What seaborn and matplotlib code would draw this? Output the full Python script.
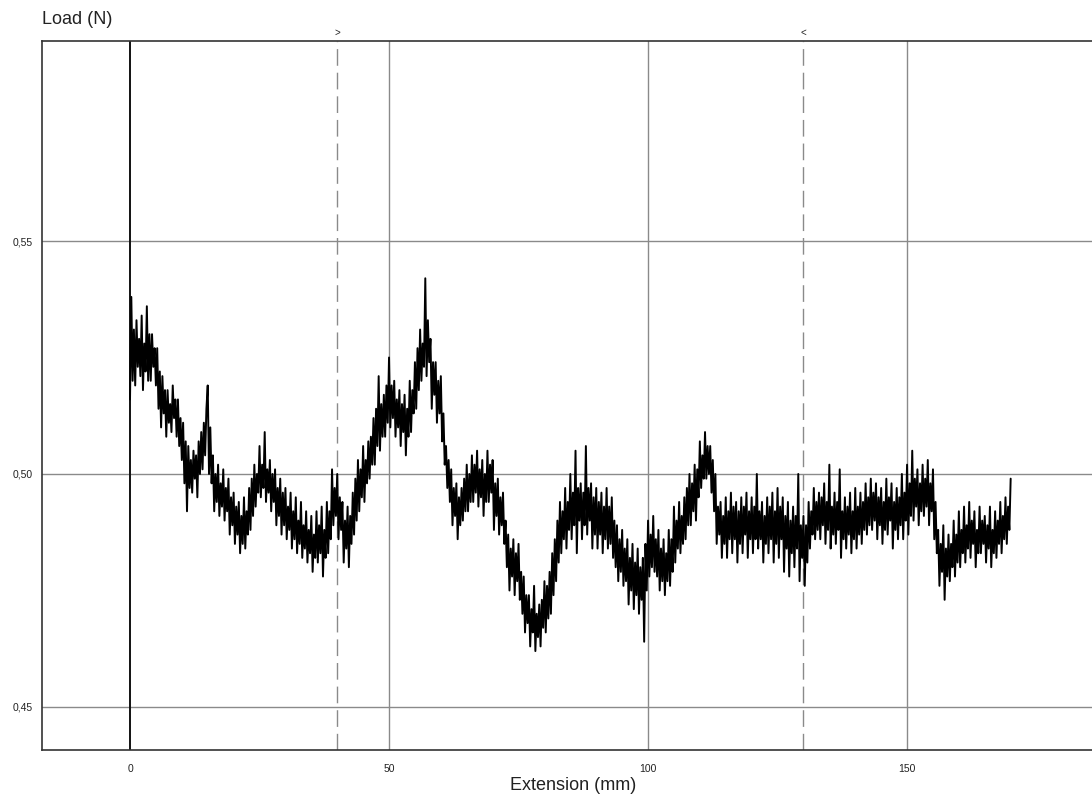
import numpy as np
import pandas as pd
import matplotlib
matplotlib.use("Agg")
import matplotlib.pyplot as plt
import seaborn as sns

# ---- data, one sample every 0.25 mm ----
step_mm = 0.25
load_0_50 = [
    .516, .538, .520, .531, .519, .533, .523, .529, .521, .534, .518, .528, .522, .536, .520, .530, .520, .530, .523, .527,
    .519, .527, .514, .522, .510, .521, .513, .518, .508, .518, .511, .515, .509, .519, .512, .516, .508, .516, .506, .512,
    .503, .511, .498, .507, .492, .506, .497, .503, .496, .505, .499, .504, .495, .507, .500, .509, .501, .511, .504, .514,
    .519, .500, .510, .498, .504, .492, .500, .494, .502, .491, .498, .493, .501, .490, .497, .492, .499, .487, .495, .489,
    .496, .485, .493, .487, .494, .483, .491, .485, .495, .484, .492, .487, .497, .488, .499, .491, .502, .493, .500, .496,
    .506, .495, .502, .497, .509, .494, .501, .496, .503, .492, .500, .494, .501, .489, .497, .491, .499, .487, .496, .489,
    .497, .486, .493, .488, .496, .484, .492, .486, .495, .483, .490, .485, .494, .482, .489, .484, .492, .481, .488, .483,
    .491, .479, .487, .482, .492, .481, .489, .483, .493, .478, .488, .482, .494, .483, .492, .486, .501, .489, .497, .491,
    .500, .486, .495, .488, .494, .481, .490, .484, .493, .480, .491, .485, .496, .487, .499, .490, .503, .492, .501, .495,
    .506, .494, .503, .498, .507, .499, .508, .502, .512, .502, .514, .506, .521, .505, .515, .508, .517, .508, .519, .511,
]
load_50_100 = [
    .525, .510, .519, .512, .520, .508, .516, .510, .518, .506, .515, .509, .517, .504, .514, .508, .520, .509, .518, .513,
    .524, .514, .527, .518, .531, .520, .528, .523, .542, .521, .533, .524, .529, .514, .524, .517, .524, .511, .520, .513,
    .521, .507, .513, .502, .506, .497, .503, .494, .501, .489, .497, .491, .498, .486, .495, .489, .497, .490, .499, .492,
    .502, .492, .500, .494, .504, .494, .502, .496, .505, .493, .501, .495, .503, .491, .500, .494, .505, .494, .502, .496,
    .503, .488, .498, .491, .499, .487, .495, .489, .496, .485, .490, .480, .487, .475, .484, .478, .486, .474, .483, .477,
    .485, .473, .479, .470, .478, .466, .474, .468, .474, .463, .471, .466, .476, .462, .470, .465, .472, .463, .473, .467,
    .477, .466, .476, .469, .479, .470, .483, .474, .486, .477, .490, .481, .494, .483, .492, .486, .497, .484, .494, .488,
    .500, .486, .496, .489, .505, .483, .497, .490, .498, .486, .496, .489, .506, .487, .497, .490, .498, .484, .495, .487,
    .497, .484, .494, .487, .496, .483, .493, .486, .497, .484, .493, .485, .495, .482, .490, .480, .489, .477, .486, .479,
    .488, .476, .484, .477, .486, .472, .482, .475, .485, .471, .481, .474, .484, .470, .480, .473, .482, .464, .485, .475,
]
load_100_150 = [
    .490, .478, .487, .480, .491, .479, .486, .478, .488, .475, .484, .477, .486, .474, .483, .477, .488, .476, .486, .479,
    .493, .481, .490, .484, .494, .483, .491, .485, .495, .486, .497, .489, .500, .489, .498, .492, .502, .490, .501, .495,
    .507, .497, .504, .499, .509, .499, .506, .500, .506, .496, .503, .492, .500, .485, .493, .487, .494, .482, .491, .485,
    .495, .482, .492, .486, .496, .483, .493, .486, .494, .481, .492, .485, .495, .483, .493, .487, .496, .482, .492, .486,
    .495, .483, .493, .486, .500, .484, .492, .486, .494, .481, .491, .485, .495, .483, .493, .486, .496, .481, .492, .485,
    .497, .482, .493, .486, .495, .479, .491, .484, .494, .478, .490, .483, .493, .480, .491, .484, .500, .477, .489, .482,
    .491, .476, .489, .481, .494, .484, .492, .487, .497, .486, .494, .488, .496, .486, .495, .489, .498, .485, .494, .488,
    .502, .484, .493, .487, .496, .485, .494, .488, .501, .482, .492, .486, .495, .484, .493, .487, .496, .483, .492, .486,
    .497, .484, .493, .487, .496, .485, .494, .488, .498, .487, .495, .489, .499, .488, .496, .490, .498, .486, .495, .489,
    .497, .485, .494, .488, .499, .487, .495, .490, .498, .484, .494, .488, .497, .486, .495, .489, .500, .486, .496, .490,
]
load_150_170 = [
    .502, .487, .498, .491, .505, .490, .499, .493, .501, .489, .498, .492, .502, .491, .499, .493, .503, .489, .498, .492,
    .501, .486, .494, .483, .488, .476, .485, .479, .489, .473, .484, .478, .487, .477, .485, .480, .490, .478, .487, .481,
    .492, .480, .488, .483, .493, .481, .489, .484, .494, .482, .490, .485, .492, .480, .488, .483, .493, .483, .490, .485,
    .491, .481, .489, .484, .493, .480, .488, .483, .492, .482, .490, .485, .494, .483, .491, .486, .495, .485, .493, .488,
    .499,
]

x_ticks = [0, 50, 100, 150]
x_tick_labels = ["0", "50", "100", "150"]
y_ticks = [0.45, 0.50, 0.55]
y_tick_labels = ["0,45", "0,50", "0,55"]
marker_positions = [40, 130]
marker_labels = [">", "<"]
x_label = "Extension (mm)"
y_label = "Load (N)"

load = load_0_50 + load_50_100 + load_100_150 + load_150_170
extension = np.arange(len(load)) * step_mm
df = pd.DataFrame({"Extension (mm)": extension, "Load (N)": load})

# ---- figure ----
sns.set_style("white")
plt.rcParams["font.family"] = ["Liberation Sans", "DejaVu Sans"]

W, H = 1092, 798
fig = plt.figure(figsize=(W / 100, H / 100), dpi=100)
ax_left, ax_right, ax_top, ax_bottom = 42, 1092, 41, 750
ax = fig.add_axes([ax_left / W, 1 - ax_bottom / H,
                   (ax_right - ax_left) / W, (ax_bottom - ax_top) / H])

ax.set_xlim(-16.99, 185.7)
ax.set_ylim(0.44077, 0.59292)

grid_col = "#8a8a8a"
for yv in y_ticks:
    ax.axhline(yv, color=grid_col, lw=1.0, zorder=1)
for xv in x_ticks[1:]:
    ax.axvline(xv, color=grid_col, lw=1.0, zorder=1)
ax.axvline(x_ticks[0], color="#111111", lw=1.4, zorder=1)
for xv, lab in zip(marker_positions, marker_labels):
    ax.axvline(xv, color=grid_col, lw=1.0, ls=(0, (12, 5)), zorder=1)
    ax.annotate(lab, xy=(xv, 1.0), xycoords=ax.get_xaxis_transform(),
                xytext=(0, 2.5), textcoords="offset points",
                ha="center", va="bottom", fontsize=7, color="#222222",
                annotation_clip=False)

sns.lineplot(data=df, x="Extension (mm)", y="Load (N)", ax=ax,
             color="black", linewidth=1.4, estimator=None, sort=False,
             zorder=3)

ax.set_xticks(x_ticks)
ax.set_xticklabels(x_tick_labels)
ax.set_yticks(y_ticks)
ax.set_yticklabels(y_tick_labels)
ax.tick_params(axis="both", which="major", direction="out", length=5,
               width=1.0, color="#222222", labelsize=7.5, labelcolor="#222222",
               pad=2)
ax.tick_params(axis="x", pad=5)

for side in ["left", "top", "bottom"]:
    ax.spines[side].set_visible(True)
    ax.spines[side].set_color("#333333")
    ax.spines[side].set_linewidth(1.2)
ax.spines["right"].set_visible(False)

ax.set_xlabel(x_label, fontsize=13, color="#222222")
ax.xaxis.set_label_coords((573 - ax_left) / (ax_right - ax_left),
                          (ax_bottom - 785) / (ax_bottom - ax_top))
ax.xaxis.label.set_va("center")
ax.set_ylabel("")
fig.text(42 / W, 1 - 19 / H, y_label, ha="left", va="center",
         fontsize=13, color="#222222")

fig.savefig("out.png", dpi=100)
